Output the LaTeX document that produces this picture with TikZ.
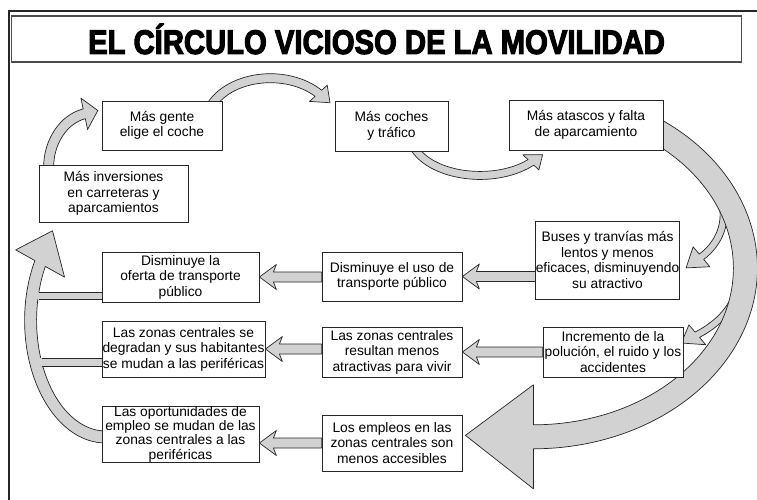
\documentclass[tikz,border=0pt]{standalone}
\usepackage{fontspec}
\setmainfont{Liberation Sans}
\newfontfamily\titlefont{Liberation Sans Bold}[FakeBold=3.5]
\usetikzlibrary{calc,backgrounds}

\newcommand{\boxfont}{\fontsize{13.8}{15.5}\selectfont}

\tikzset{
  box/.style={draw=black!85, line width=0.8, fill=white, align=center, inner sep=0pt, font=\boxfont},
  bentarrow/.style={fill=gray!35, draw=black!85, line width=0.7, line join=round},
  barline/.style={draw=black!85, line width=0.7},
}

% curved block arrow along an elliptic arc
% #1 start, #2 start angle, #3 end angle, #4 x radius, #5 y radius,
% #6 half shaft, #7 half head, #8 head length
\newcommand{\bentarrow}[8]{%
  \coordinate (ctr) at ($(#1)+({-(#4)*cos(#2)},{-(#5)*sin(#2)})$);
  \coordinate (hend) at ($(ctr)+({(#4)*cos(#3)},{(#5)*sin(#3)})$);
  \coordinate (hnext) at ($(ctr)+({(#4)*cos(#3+(#3-#2)/50)},{(#5)*sin(#3+(#3-#2)/50)})$);
  \coordinate (hout) at ($(ctr)+({(#4+#6)*cos(#3)},{(#5+#6)*sin(#3)})$);
  \coordinate (hin) at ($(ctr)+({(#4-#6)*cos(#3)},{(#5-#6)*sin(#3)})$);
  \filldraw[bentarrow] ($(ctr)+({(#4+#6)*cos(#2)},{(#5+#6)*sin(#2)})$)
    arc[start angle=#2, end angle=#3, x radius=#4+#6, y radius=#5+#6]
    -- ($(hend)!#7pt!(hout)$) -- ($(hend)!#8pt!(hnext)$) -- ($(hend)!#7pt!(hin)$) -- (hin)
    arc[start angle=#3, end angle=#2, x radius=#4-#6, y radius=#5-#6]
    -- cycle;
}

% straight block arrow pointing left, #1 from, #2 to, #3 row
\newcommand{\flatarrow}[3]{%
  \filldraw[bentarrow] (#2.east |- #3) -- ++(17,-12.5) -- ++(-3,7.5)
    -- ($(#1.west |- #3)+(0,-5)$) -- ++(0,10)
    -- ($(#2.east |- #3)+(14,5)$) -- ++(3,7.5) -- cycle;
}

\begin{document}
\begin{tikzpicture}[x=1pt, y=-1pt]
\useasboundingbox (0,0) rectangle (757,500);

% frame and title
\draw[line width=2, black!85] (757,11) -- (8.8,11) -- (8.8,500);
\node[draw=black!70, line width=1.5, minimum width=730, minimum height=46, inner sep=0pt] (title) at (376.5,39)
  {\scalebox{0.86}[1]{\titlefont\fontsize{34}{34}\selectfont EL CÍRCULO VICIOSO DE LA MOVILIDAD}};

% boxes
\node[box, minimum width=120, minimum height=49] (gente) at (162,125.5) {Más gente\\elige el coche};
\node[box, minimum width=113, minimum height=50] (coches) at (391.5,126) {Más coches\\y tráfico};
\node[box, minimum width=154, minimum height=50] (atascos) at (586,125) {Más atascos y falta\\de aparcamiento};
\node[box, minimum width=149, minimum height=57] (inversiones) at (113.5,193.5) {Más inversiones\\en carreteras y\\aparcamientos};
\node[box, minimum width=141, minimum height=78] (buses) at (607.5,260) {Buses y tranvías más\\lentos y menos\\eficaces, disminuyendo\\su atractivo};
\node[box, minimum width=140, minimum height=49] (uso) at (392,276.5) {Disminuye el uso de\\transporte público};
\node[box, minimum width=157, minimum height=50] (oferta) at (180.5,277) {Disminuye la\\oferta de transporte\\público};
\node[box, minimum width=140, minimum height=50] (polucion) at (613,352) {Incremento de la\\polución, el ruido y los\\accidentes};
\node[box, minimum width=140, minimum height=50] (resultan) at (392,352) {Las zonas centrales\\resultan menos\\atractivas para vivir};
\node[box, minimum width=163, minimum height=56] (degradan) at (183.5,349) {Las zonas centrales se\\degradan y sus habitantes\\se mudan a las periféricas};
\node[box, minimum width=157, minimum height=56, font=\fontsize{13.8}{14.3}\selectfont] (oportunidades) at (180.5,434) {Las oportunidades de\\empleo se mudan de las\\zonas centrales a las\\periféricas};
\node[box, minimum width=140, minimum height=56] (empleos) at (392,443) {Los empleos en las\\zonas centrales son\\menos accesibles};

% arrows behind the boxes
\begin{scope}[on background layer]
  \coordinate (invstart) at ($(inversiones.north west)+(10,3)$);
  \coordinate (gentestart) at ($(gente.north east)+(-10,3)$);
  \coordinate (cochesstart) at ($(coches.south)+(23,-3)$);
  \coordinate (busesfork) at ($(buses.north east)+(41.9,-20.2)$);
  \coordinate (polucionfork) at ($(polucion.north east)+(55,-47)$);
  \coordinate (atascosstart) at ($(atascos.east)+(-24,-3)$);
  \coordinate (oportstart) at ($(oportunidades.west)+(4,3)$);

  \bentarrow{invstart}{180}{258}{45}{55}{5}{16}{14}
  \bentarrow{gentestart}{206.9}{317.6}{65}{46.4}{4.5}{12}{15}
  \bentarrow{cochesstart}{159.4}{43.4}{70}{41.7}{4}{11}{14}
  \bentarrow{busesfork}{345}{410}{62}{55}{3.5}{13}{19}
  \bentarrow{polucionfork}{0}{50}{115}{72}{3.5}{13}{18}
  \bentarrow{atascosstart}{300}{450}{212}{168.7}{12}{52}{68}
  \bentarrow{oportstart}{90}{209.2}{75}{116.6}{6}{28}{35}

  % bars into the left arc
  \fill[gray!35] ($(oferta.south west)+(-69,-10)$) rectangle ($(oferta.south west)+(0,-3)$);
  \draw[barline] ($(oferta.south west)+(-63,-10)$) -- ++(63,0) ($(oferta.south west)+(-63,-3)$) -- ++(63,0);
  \fill[gray!35] ($(degradan.south west)+(-66,-19)$) rectangle ($(degradan.south west)+(0,-11)$);
  \draw[barline] ($(degradan.south west)+(-60,-19)$) -- ++(60,0) ($(degradan.south west)+(-60,-11)$) -- ++(60,0);

  \flatarrow{buses}{uso}{uso}
  \flatarrow{uso}{oferta}{oferta}
  \flatarrow{polucion}{resultan}{resultan}
  \flatarrow{resultan}{degradan}{degradan}
  \flatarrow{empleos}{oportunidades}{empleos}
\end{scope}
\end{tikzpicture}
\end{document}
